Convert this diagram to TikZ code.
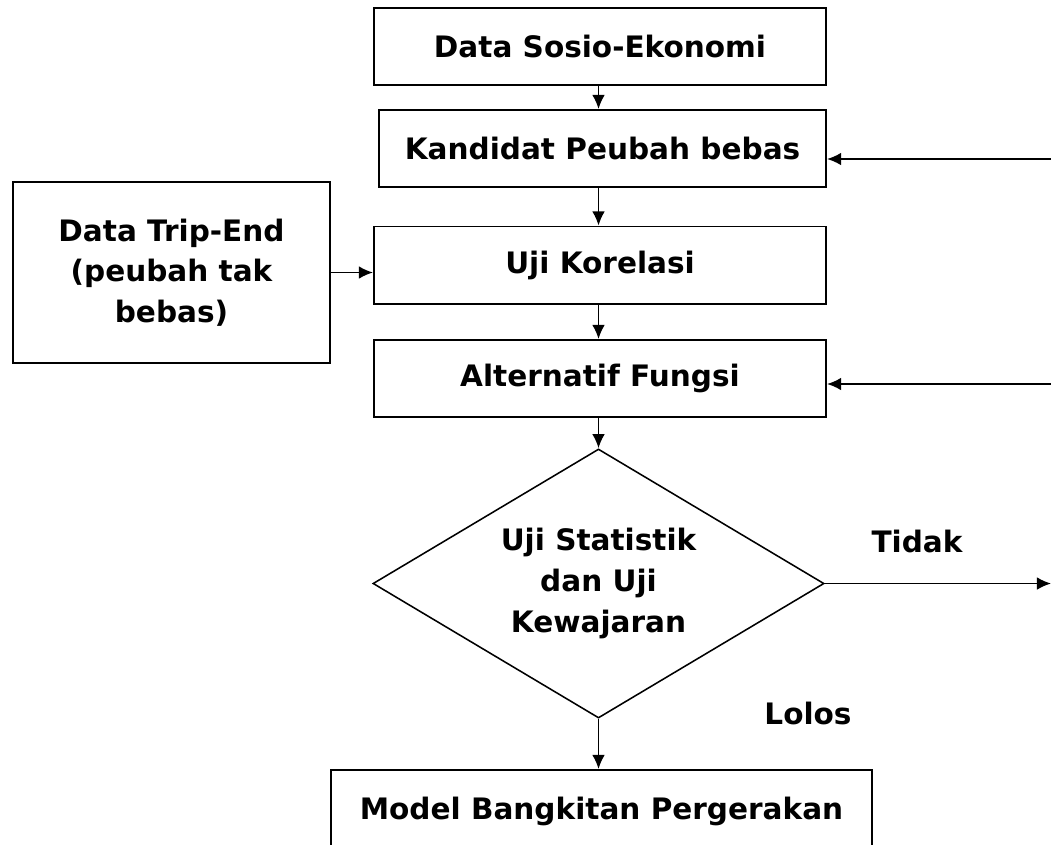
\documentclass[tikz,border=0pt]{standalone}
\usepackage{fontspec}
\setmainfont{DejaVu Sans}
\usetikzlibrary{positioning,arrows.meta,shapes.geometric}

\begin{document}
\begin{tikzpicture}[x=0.025cm,y=-0.025cm,blok/.style={draw=black,line width=1.4pt,minimum width=11.3cm,minimum height=1.925cm,align=center,font=\fontsize{21}{29}\selectfont\bfseries,inner sep=4pt},cek/.style={draw=black,line width=1.1pt,shape=diamond,aspect=1.68,minimum width=11.275cm,minimum height=6.725cm,align=center,font=\fontsize{21}{29}\selectfont\bfseries,inner sep=0pt},lbl/.style={font=\fontsize{21}{29}\selectfont\bfseries},arr/.style={-{Latex[length=10pt,width=9pt]},line width=1.2pt}]
    \clip (0,0) rectangle (1051,844);
    \node[blok] (sosio) at (600,46.5) {Data Sosio-Ekonomi};
    \node[blok,minimum width=11.175cm] (kandidat) at (602.5,148.5) {Kandidat Peubah bebas};
    \node[blok] (korelasi) at (600,265) {Uji Korelasi};
    \node[blok] (fungsi) at (600,378.5) {Alternatif Fungsi};
    \node[blok,minimum width=7.925cm,minimum height=4.525cm] (tripend) at (171.5,272.5) {Data Trip-End\\(peubah tak\\bebas)};
    \node[cek] (uji) at (598.5,583.5) {Uji Statistik\\dan Uji\\Kewajaran};
    \node[blok,anchor=north,minimum width=13.525cm,text height=31pt,text depth=50pt] (model) at (601.5,769) {Model Bangkitan Pergerakan};
    \node[lbl] (tidak) at (917,541) {Tidak};
    \node[lbl] (lolos) at (808,713) {Lolos};
    \coordinate (in1) at (1051,159); \coordinate (in2) at (1051,384); \coordinate (out1) at (1051,583.5);
    \draw[arr] (uji |- sosio.south)--(uji |- kandidat.north); \draw[arr] (uji |- kandidat.south)--(uji |- korelasi.north);
    \draw[arr] (uji |- korelasi.south)--(uji |- fungsi.north); \draw[arr] (uji |- fungsi.south)--(uji.north);
    \draw[arr] (uji.south)--(uji |- model.north);
    \draw[arr] (tripend.east)--(korelasi.west |- tripend.east);
    \draw[arr] (in1)--(kandidat.east |- in1); \draw[arr] (in2)--(fungsi.east |- in2);
    \draw[arr] (uji.east)--(out1);
  \end{tikzpicture}
\end{document}
